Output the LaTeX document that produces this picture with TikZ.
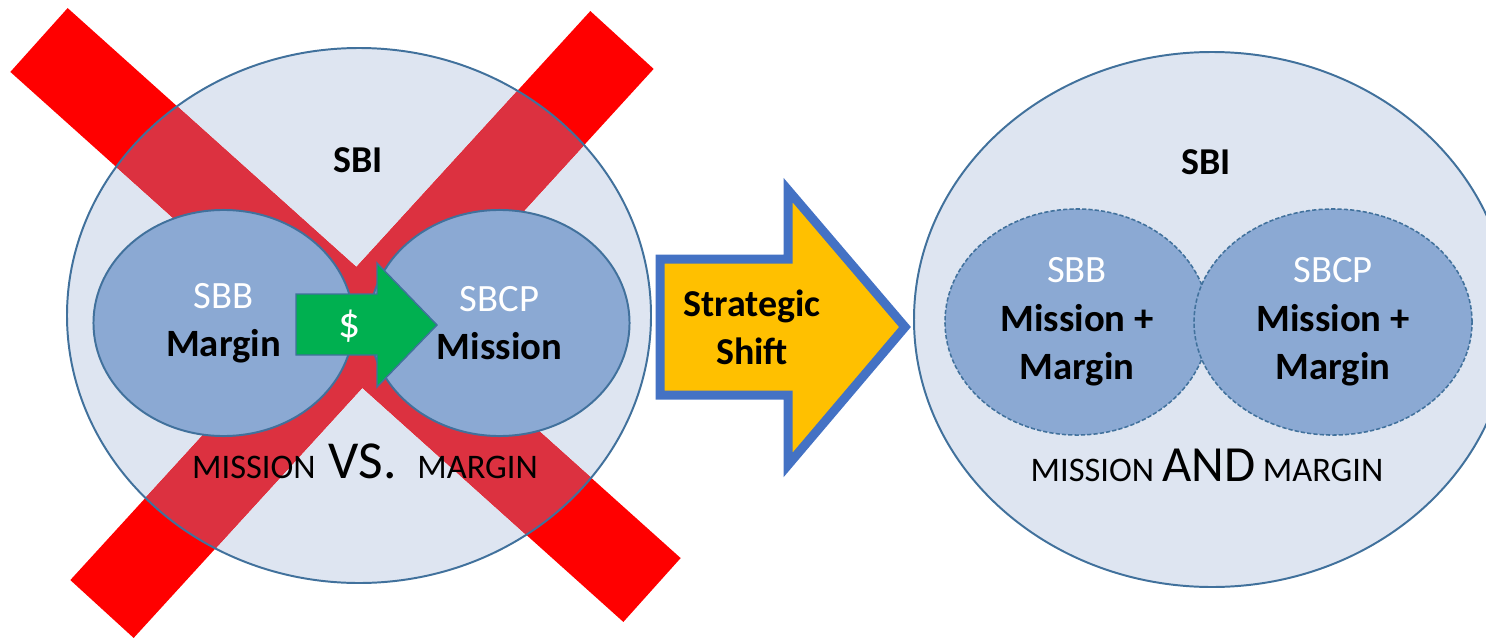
\documentclass[tikz,border=0pt]{standalone}
\usepackage{fontspec}
\setmainfont{Carlito}
\usetikzlibrary{shapes.geometric}

\definecolor{sbifill}{HTML}{DEE5F1}
\definecolor{sbiline}{HTML}{41719C}
\definecolor{cellfill}{HTML}{8BA9D3}
\definecolor{crossred}{HTML}{DC3140}
\definecolor{cashgreen}{HTML}{00B050}
\definecolor{shiftfill}{HTML}{FFC000}
\definecolor{shiftline}{HTML}{4472C4}

\tikzset{
	cell/.style={ellipse, fill=cellfill, draw=sbiline, line width=1.4pt, inner sep=0pt,
		minimum width=6.5cm, minimum height=5.65cm, align=center,
		font=\fontsize{27.5}{34.5}\selectfont},
	dashedcell/.style={cell, dashed, dash pattern=on 3pt off 1.5pt, line width=1.1pt},
	crossbar/.style={line width=61pt, line cap=butt},
	title/.style={font=\bfseries\fontsize{27}{34}\selectfont},
	caption/.style={font=\fontsize{24.5}{28}\selectfont, anchor=base, inner sep=0pt}
}

\begin{document}
\begin{tikzpicture}[x=0.025cm, y=-0.025cm]
	\useasboundingbox (0,0) rectangle (1486,638);
	
	%left circle, crossed out
	\fill[sbifill] (359,315.5) ellipse [x radius=292, y radius=267.5];
	\coordinate (xa1) at (39,40);
	\coordinate (xa2) at (652,590);
	\coordinate (xb1) at (622,40);
	\coordinate (xb2) at (102,609);
	\draw[crossbar, red] (xa1) -- (xa2) (xb1) -- (xb2);
	\begin{scope}
		\clip (359,315.5) ellipse [x radius=292, y radius=267.5];
		\draw[crossbar, crossred] (xa1) -- (xa2) (xb1) -- (xb2);
	\end{scope}
	\draw[sbiline, line width=1.4pt] (359,315.5) ellipse [x radius=292, y radius=267.5];
	
	\node[title] (sbil) at (358,160) {SBI};
	\node[cell] (sbbl) at (223.5,323) {\textcolor{white}{SBB}\\\textbf{Margin}};
	\node[cell] (sbcpl) at (499.5,323) {\textcolor{white}{SBCP}\\\textbf{Mission}};
	
	%money flows from SBB to SBCP
	\filldraw[fill=cashgreen, draw=sbiline, line width=1pt, line join=miter]
		(296,294) -- (377,294) -- (377,263) -- (437,325) -- (377,387) -- (377,355) -- (296,355) -- cycle;
	\node[text=white, font=\fontsize{31}{34}\selectfont] (cash) at (350,326) {\$};
	
	\node[caption] (vs) at (365,478) {MISSION\hspace{0.15em} {\fontsize{38}{40}\selectfont VS.}\hspace{0.6em}MARGIN};
	
	%strategic shift arrow
	\filldraw[fill=shiftfill, draw=shiftline, line width=6.4pt, line join=miter]
		(660,259) -- (788,259) -- (788,190) -- (905,327) -- (788,465) -- (788,395) -- (660,395) -- cycle;
	\node[title, align=center] (shift) at (752,327) {Strategic\\Shift};
	
	%right circle
	\filldraw[fill=sbifill, draw=sbiline, line width=1.4pt] (1212,319.5) ellipse [x radius=298, y radius=267.5];
	\node[title] (sbir) at (1206,162) {SBI};
	\node[dashedcell, minimum width=6.6cm] (sbbr) at (1077,322)
		{\textcolor{white}{SBB}\\\textbf{Mission +}\\\textbf{Margin}};
	\node[dashedcell, minimum width=6.95cm] (sbcpr) at (1333,322)
		{\textcolor{white}{SBCP}\\\textbf{Mission +}\\\textbf{Margin}};
	
	\node[caption] (and) at (1207,481) {MISSION {\fontsize{36}{40}\selectfont AND} MARGIN};
\end{tikzpicture}
\end{document}
